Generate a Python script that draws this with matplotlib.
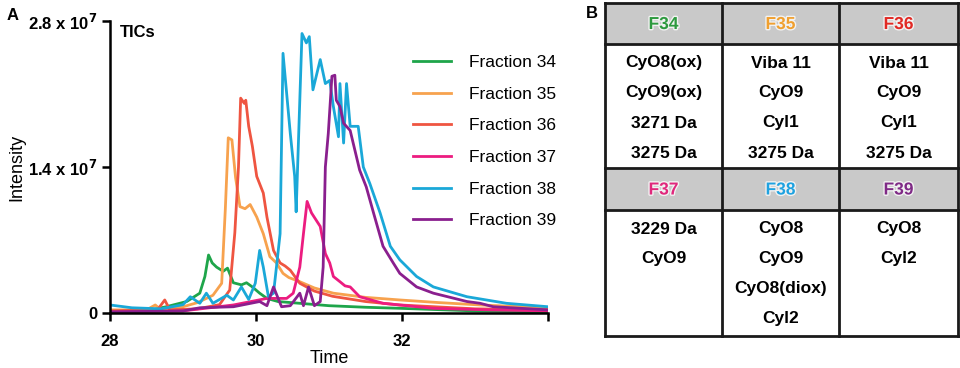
import matplotlib.pyplot as plt
import matplotlib.patheffects as pe
from matplotlib.patches import Rectangle

plt.rcParams['font.family'] = ['Liberation Sans', 'DejaVu Sans']

# 数据 (time in min, intensity in 1e6 counts)
t34 = [28.0, 28.5, 28.77, 29.05, 29.23, 29.3, 29.35, 29.4, 29.46, 29.55, 29.61, 29.65, 29.69, 29.8, 29.87,
       29.95, 30.05, 30.15, 30.3, 30.6, 31.0, 31.5, 31.97, 33.0, 34.0]
i34 = [0.1, 0.2, 0.6, 1.1, 1.9, 3.5, 5.56, 4.8, 4.4, 4.0, 4.3, 3.6, 2.9, 2.7, 2.9,
       2.5, 1.9, 1.4, 1.1, 0.93, 0.7, 0.55, 0.45, 0.2, 0.1]

t35 = [28.0, 28.5, 28.62, 28.7, 29.0, 29.2, 29.41, 29.53, 29.58, 29.62, 29.67, 29.72, 29.78, 29.85, 29.92,
       30.01, 30.1, 30.19, 30.28, 30.37, 30.45, 30.6, 30.8, 31.06, 31.5, 31.97, 32.5, 33.07, 34.0]
i35 = [0.3, 0.3, 0.77, 0.3, 0.6, 1.0, 1.7, 2.85, 10.0, 16.8, 16.6, 13.0, 10.2, 10.0, 10.4,
       9.2, 7.6, 5.4, 4.8, 3.8, 3.4, 3.0, 2.4, 1.9, 1.5, 1.25, 1.0, 0.77, 0.5]

t36 = [28.0, 28.65, 28.75, 28.82, 29.2, 29.5, 29.64, 29.71, 29.76, 29.79, 29.84, 29.86, 29.9, 29.95,
       30.01, 30.1, 30.15, 30.24, 30.33, 30.4, 30.47, 30.6, 30.8, 31.05, 31.5, 31.97, 33.0, 34.0]
i36 = [0.2, 0.3, 1.25, 0.3, 0.4, 0.8, 2.2, 7.7, 14.0, 20.6, 20.1, 20.4, 17.9, 16.0,
       13.1, 11.5, 9.2, 6.0, 4.8, 4.5, 4.1, 2.85, 2.1, 1.6, 1.1, 0.77, 0.4, 0.3]

t37 = [28.0, 29.0, 29.69, 30.15, 30.42, 30.51, 30.6, 30.65, 30.7, 30.76, 30.88, 30.95, 31.01, 31.06,
       31.15, 31.22, 31.29, 31.42, 31.74, 32.42, 33.2, 34.0]
i37 = [0.1, 0.2, 0.77, 1.4, 1.4, 1.9, 4.4, 7.6, 10.7, 9.6, 8.3, 5.7, 4.8, 3.5,
       3.0, 2.6, 2.5, 1.56, 0.93, 0.45, 0.3, 0.2]

t38 = [28.0, 28.3, 28.7, 29.0, 29.1, 29.23, 29.32, 29.41, 29.6, 29.69, 29.8, 29.9, 29.99, 30.05, 30.1,
       30.17, 30.24, 30.28, 30.33, 30.37, 30.47, 30.53, 30.55, 30.6, 30.63, 30.69, 30.73, 30.78, 30.88,
       30.95, 31.01, 31.06, 31.13, 31.15, 31.2, 31.24, 31.29, 31.4, 31.47, 31.56, 31.7, 31.84, 31.97,
       32.2, 32.43, 32.89, 33.43, 34.0]
i38 = [0.77, 0.5, 0.4, 0.8, 1.56, 0.93, 1.9, 0.93, 1.7, 1.25, 2.5, 1.3, 2.85, 6.0, 4.4,
       1.56, 1.9, 4.4, 7.6, 24.9, 17.2, 13.1, 9.7, 20.4, 26.8, 25.9, 26.5, 21.4, 24.3,
       22.0, 22.3, 19.8, 16.9, 22.0, 16.3, 22.0, 17.9, 17.9, 14.0, 12.4, 9.6, 6.4, 5.1,
       3.5, 2.5, 1.56, 0.93, 0.6]

t39 = [28.0, 29.0, 29.23, 29.69, 30.05, 30.15, 30.24, 30.35, 30.47, 30.6, 30.65, 30.72, 30.8, 30.88,
       30.92, 30.95, 30.99, 31.04, 31.08, 31.1, 31.15, 31.2, 31.29, 31.42, 31.51, 31.61, 31.74, 31.88,
       31.97, 32.2, 32.43, 32.89, 33.07, 33.25, 34.0]
i39 = [0.1, 0.2, 0.5, 0.6, 1.1, 0.7, 2.5, 0.6, 0.7, 1.9, 0.7, 2.5, 0.7, 1.1,
       4.4, 14.0, 17.2, 22.7, 22.8, 20.4, 19.8, 18.2, 17.5, 13.7, 12.1, 9.6, 6.4, 4.8,
       3.8, 2.5, 1.9, 1.1, 0.93, 0.6, 0.3]

series = [(t34, i34, 'Fraction 34', '#1ea54a'),
          (t35, i35, 'Fraction 35', '#f7a24e'),
          (t36, i36, 'Fraction 36', '#ef5541'),
          (t37, i37, 'Fraction 37', '#ec1c80'),
          (t38, i38, 'Fraction 38', '#1aa8d8'),
          (t39, i39, 'Fraction 39', '#8a1f8e')]

# 表格数据
headers = ['F34', 'F35', 'F36', 'F37', 'F38', 'F39']
header_colors = ['#2e9a3f', '#f0a030', '#e12a25', '#e0277c', '#1fa2e0', '#7f2a86']
compounds = [['CyO8(ox)', 'CyO9(ox)', '3271 Da', '3275 Da'],
             ['Viba 11', 'CyO9', 'Cyl1', '3275 Da'],
             ['Viba 11', 'CyO9', 'Cyl1', '3275 Da'],
             ['3229 Da', 'CyO9'],
             ['CyO8', 'CyO9', 'CyO8(diox)', 'Cyl2'],
             ['CyO8', 'Cyl2']]

fig = plt.figure(figsize=(9.6, 3.68), dpi=100)
W, H = 960, 368
ax = fig.add_axes([110 / W, 1 - 313 / H, 438 / W, 292 / H])

for t, y, lab, c in series:
    ax.plot(t, [v * 1e6 for v in y], color=c, lw=2, label=lab)

ax.set_xlim(28, 34)
ax.set_ylim(0, 2.8e7)
ax.set_xticks([28, 30, 32, 34])
ax.set_xticklabels(['28', '30', '32', ''], fontweight='bold', fontsize=12)
ax.set_yticks([0, 1.4e7, 2.8e7])
ax.set_yticklabels(['0', r'1.4 x 10$^{\mathbf{7}}$', r'2.8 x 10$^{\mathbf{7}}$'], fontweight='bold', fontsize=12)
for s in ['top', 'right']:
    ax.spines[s].set_visible(False)
for s in ['left', 'bottom']:
    ax.spines[s].set_linewidth(1.8)
ax.tick_params(width=1.8, length=6, direction='out', pad=3)
ax.tick_params(axis='x', pad=9)
ax.set_xlabel('Time', fontsize=13, labelpad=1)
ax.set_ylabel('Intensity', fontsize=13, labelpad=2)
ax.text(0.022, 0.985, 'TICs', transform=ax.transAxes, fontsize=12, fontweight='bold', va='top')

ax.legend(frameon=False, fontsize=12.5, handlelength=2.2, handletextpad=1.0, labelspacing=0.95,
          borderpad=0, borderaxespad=0, loc='upper left', bbox_to_anchor=(413 / W, 1 - 55 / H),
          bbox_transform=fig.transFigure)

fig.text(13 / W, 1 - 15 / H, 'A', fontsize=12, fontweight='bold', va='center', ha='center')
fig.text(592 / W, 1 - 13 / H, 'B', fontsize=12, fontweight='bold', va='center', ha='center')

# 表格 B
tb = fig.add_axes([0, 0, 1, 1])
tb.set_xlim(0, W)
tb.set_ylim(H, 0)
tb.axis('off')
col_x = [605, 722, 839, 958]
row_y = [(3, 44, 168), (168, 210, 336)]
for k in range(6):
    r, c = divmod(k, 3)
    x0, x1 = col_x[c], col_x[c + 1]
    top, mid, bot = row_y[r]
    tb.add_patch(Rectangle((x0, top), x1 - x0, mid - top, facecolor='#c9c9c9', edgecolor='none'))
    tb.text((x0 + x1) / 2, (top + mid) / 2 + 1, headers[k], color=header_colors[k], fontsize=12.5,
            fontweight='bold', ha='center', va='center',
            path_effects=[pe.withStroke(linewidth=2, foreground='#f2f2f2')])
    for j, name in enumerate(compounds[k]):
        tb.text((x0 + x1) / 2, mid + 19 + 30 * j, name, fontsize=12.5, fontweight='bold',
                ha='center', va='center')
for x in col_x:
    tb.plot([x, x], [3, 336], color='#1a1a1a', lw=2)
for y in [3, 44, 168, 210, 336]:
    tb.plot([col_x[0], col_x[-1]], [y, y], color='#1a1a1a', lw=2)

fig.savefig('out.png', dpi=100)
